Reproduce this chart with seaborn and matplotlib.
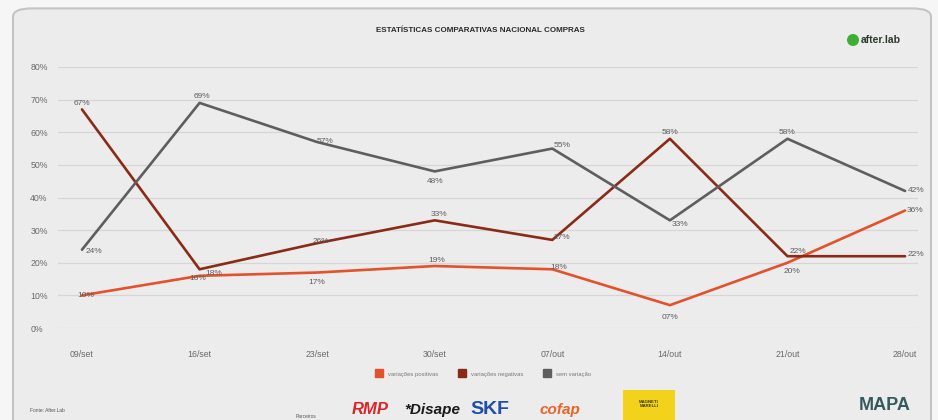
import matplotlib
matplotlib.use("Agg")
import matplotlib.pyplot as plt
from matplotlib.patches import FancyBboxPatch, Rectangle, Ellipse
from matplotlib.lines import Line2D
import seaborn as sns
import pandas as pd

# Weekly national purchase statistics
semanas = ["09/set", "16/set", "23/set", "30/set", "07/out", "14/out", "21/out", "28/out"]
positivas = [10, 16, 17, 19, 18, 7, 20, 36]
negativas = [67, 18, 26, 33, 27, 58, 22, 22]
sem_variacao = [24, 69, 57, 48, 55, 33, 58, 42]
series_nomes = ["variações positivas", "variações negativas", "sem variação"]
y_ticks = [0, 10, 20, 30, 40, 50, 60, 70, 80]

cores = {"variações positivas": "#e4512b",
         "variações negativas": "#8a2a18",
         "sem variação": "#5e5e5e"}

# label offsets (pixels) for each point of each series
desloc = {
    "variações positivas": [(4, 0), (-2, -3), (0, -10), (2, 6), (6, 2), (0, -12), (4, -9), (10, 0)],
    "variações negativas": [(0, 6), (14, -4), (4, 2), (4, 6), (10, 2), (0, 6), (10, 5), (11, 2)],
    "sem variação": [(12, -2), (2, 6), (8, 1), (0, -10), (10, 3), (10, -4), (0, 6), (11, 0)],
}

df = pd.DataFrame({
    "semana": list(range(len(semanas))) * 3,
    "valor": positivas + negativas + sem_variacao,
    "serie": [series_nomes[0]] * len(semanas) + [series_nomes[1]] * len(semanas)
             + [series_nomes[2]] * len(semanas),
})

sns.set_theme(style="white")
plt.rcParams["font.family"] = ["Liberation Sans", "DejaVu Sans"]

fig = plt.figure(figsize=(9.38, 4.2), dpi=100)
fig.patch.set_facecolor("#f6f6f6")

# rounded card behind the chart
card = FancyBboxPatch((13 / 938, -0.05), 918 / 938, 1.03, transform=fig.transFigure,
                      boxstyle="round,pad=0,rounding_size=0.02",
                      facecolor="#ececec", edgecolor="#c4c4c4", linewidth=1.5, zorder=-5)
fig.patches.append(card)

ax = fig.add_axes([58 / 938, 1 - 328 / 420, 860 / 938, 261 / 420])
ax.set_facecolor("none")
ax.set_zorder(2)

sns.lineplot(data=df, x="semana", y="valor", hue="serie", hue_order=series_nomes,
             palette=cores, linewidth=1.9, sort=False, legend=False, ax=ax, zorder=3)

ax.set_xlim(-0.204, 7.11)
ax.set_ylim(0, 80)
ax.set_yticks(y_ticks)
ax.set_yticklabels([f"{v}%" for v in y_ticks])
ax.set_xticks(range(len(semanas)))
ax.set_xticklabels(semanas)
ax.grid(axis="y", color="#d6d6d6", linewidth=0.9)
ax.grid(axis="x", visible=False)
for s in ax.spines.values():
    s.set_visible(False)
ax.tick_params(axis="y", length=0, pad=20, labelsize=6.3, labelcolor="#6a6a6a")
ax.tick_params(axis="x", length=0, pad=16, labelsize=6.3, labelcolor="#6a6a6a")
for lbl in ax.get_yticklabels():
    lbl.set_horizontalalignment("left")
ax.set_xlabel("")
ax.set_ylabel("")

# value labels
valores = {series_nomes[0]: positivas, series_nomes[1]: negativas, series_nomes[2]: sem_variacao}
for nome in series_nomes:
    for i, v in enumerate(valores[nome]):
        dx, dy = desloc[nome][i]
        ax.annotate(f"{v:02d}%", (i, v), xytext=(dx * 0.72, dy * 0.72), textcoords="offset points",
                    ha="center", va="center", fontsize=6, color="#5e5e5e", zorder=4)

# legend
handles = [Line2D([], [], marker="s", linestyle="none", markersize=6,
                  markerfacecolor=cores[n], markeredgecolor=cores[n]) for n in series_nomes]
fig.legend(handles, series_nomes, loc="center", bbox_to_anchor=(482 / 938, 1 - 374 / 420),
           ncol=3, frameon=False, fontsize=4.2, handletextpad=0.6, columnspacing=3.0,
           labelcolor="#777777")

# title
fig.text(480 / 938, 1 - 31 / 420, "ESTATÍSTICAS COMPARATIVAS NACIONAL COMPRAS",
         ha="center", va="center", fontsize=5.8, fontweight="bold", color="#2b2b2b")

# after.lab brand
fig.patches.append(Ellipse((853 / 938, 1 - 40 / 420), 12 / 938, 12 / 420,
                           transform=fig.transFigure, facecolor="#3fae35", edgecolor="none"))
fig.text(861 / 938, 1 - 40 / 420, "after.lab", ha="left", va="center", fontsize=7.5,
         fontweight="bold", color="#2e3a30")

# footer
fig.text(30 / 938, 1 - 411 / 420, "Fonte: After.Lab", ha="left", va="center",
         fontsize=3.5, color="#555555")
fig.text(296 / 938, 1 - 416 / 420, "Parceiros", ha="left", va="center",
         fontsize=3.5, color="#555555")
fig.text(352 / 938, 1 - 410 / 420, "RMP", ha="left", va="center", fontsize=12,
         fontweight="bold", style="italic", color="#d8262c")
fig.text(404 / 938, 1 - 410 / 420, "*Disape", ha="left", va="center", fontsize=11,
         fontweight="bold", style="italic", color="#1a1a1a")
fig.text(470 / 938, 1 - 410 / 420, "SKF", ha="left", va="center", fontsize=14,
         fontweight="bold", color="#1f4fa8")
fig.text(540 / 938, 1 - 410 / 420, "cofap", ha="left", va="center", fontsize=11,
         fontweight="bold", style="italic", color="#e8642a")
fig.patches.append(Rectangle((623 / 938, 0), 52 / 938, 30 / 420, transform=fig.transFigure,
                             facecolor="#f3d21c", edgecolor="none"))
fig.text(649 / 938, 1 - 404 / 420, "MAGNETI\nMARELLI", ha="center", va="center",
         fontsize=3.2, fontweight="bold", color="#3a3a10", linespacing=0.9)
fig.text(885 / 938, 1 - 405 / 420, "MAPA", ha="center", va="center", fontsize=13,
         fontweight="bold", color="#365a5c")

fig.savefig("out.png", dpi=100, facecolor=fig.get_facecolor())
